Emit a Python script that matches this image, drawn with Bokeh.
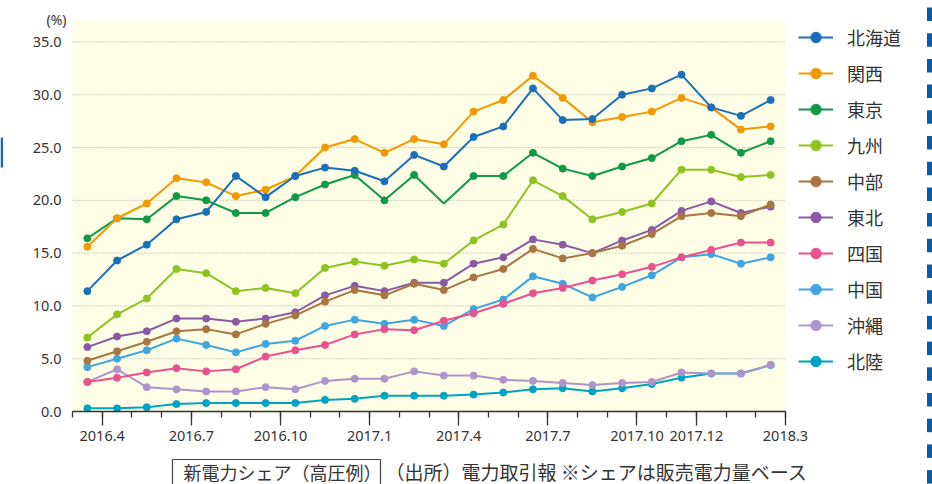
from bokeh.plotting import figure
from bokeh.models import (ColumnDataSource, Range1d, FixedTicker, Legend, LegendItem,
                          Label, CDSView, IndexFilter, CustomJSTickFormatter, BoxAnnotation)
from bokeh.embed import file_html
from bokeh.resources import INLINE

# ---------------- data ----------------
months = ["2016.3", "2016.4", "2016.5", "2016.6", "2016.7", "2016.8", "2016.9", "2016.10",
          "2016.11", "2016.12", "2017.1", "2017.2", "2017.3", "2017.4", "2017.5", "2017.6",
          "2017.7", "2017.8", "2017.9", "2017.10", "2017.11", "2017.12", "2018.1", "2018.2"]

hokkaido = [11.4, 14.3, 15.8, 18.2, 18.9, 22.3, 20.3, 22.3, 23.1, 22.8, 21.8, 24.3,
            23.2, 26.0, 27.0, 30.6, 27.6, 27.7, 30.0, 30.6, 31.9, 28.8, 28.0, 29.5]
kansai = [15.6, 18.3, 19.7, 22.1, 21.7, 20.4, 21.0, 22.3, 25.0, 25.8, 24.5, 25.8,
          25.3, 28.4, 29.5, 31.8, 29.7, 27.4, 27.9, 28.4, 29.7, 28.8, 26.7, 27.0]
tokyo = [16.4, 18.3, 18.2, 20.4, 20.0, 18.8, 18.8, 20.3, 21.5, 22.4, 20.0, 22.4,
         19.7, 22.3, 22.3, 24.5, 23.0, 22.3, 23.2, 24.0, 25.6, 26.2, 24.5, 25.6]
kyushu = [7.0, 9.2, 10.7, 13.5, 13.1, 11.4, 11.7, 11.2, 13.6, 14.2, 13.8, 14.4,
          14.0, 16.2, 17.7, 21.9, 20.4, 18.2, 18.9, 19.7, 22.9, 22.9, 22.2, 22.4]
chubu = [4.8, 5.7, 6.6, 7.6, 7.8, 7.3, 8.3, 9.1, 10.4, 11.5, 11.0, 12.1,
         11.5, 12.7, 13.5, 15.4, 14.5, 15.0, 15.7, 16.8, 18.5, 18.8, 18.5, 19.6]
tohoku = [6.1, 7.1, 7.6, 8.8, 8.8, 8.5, 8.8, 9.4, 11.0, 11.9, 11.4, 12.2,
          12.2, 14.0, 14.6, 16.3, 15.8, 15.0, 16.2, 17.2, 19.0, 19.9, 18.8, 19.4]
shikoku = [2.8, 3.2, 3.7, 4.1, 3.8, 4.0, 5.2, 5.8, 6.3, 7.3, 7.8, 7.7,
           8.6, 9.3, 10.2, 11.2, 11.7, 12.4, 13.0, 13.7, 14.6, 15.3, 16.0, 16.0]
chugoku = [4.2, 5.0, 5.8, 6.9, 6.3, 5.6, 6.4, 6.7, 8.1, 8.7, 8.3, 8.7,
           8.1, 9.7, 10.6, 12.8, 12.1, 10.8, 11.8, 12.9, 14.6, 14.9, 14.0, 14.6]
okinawa = [2.8, 4.0, 2.3, 2.1, 1.9, 1.9, 2.3, 2.1, 2.9, 3.1, 3.1, 3.8,
           3.4, 3.4, 3.0, 2.9, 2.7, 2.5, 2.7, 2.8, 3.7, 3.6, 3.6, 4.4]
hokuriku = [0.3, 0.3, 0.4, 0.7, 0.8, 0.8, 0.8, 0.8, 1.1, 1.2, 1.5, 1.5,
            1.5, 1.6, 1.8, 2.1, 2.2, 1.9, 2.2, 2.6, 3.2, 3.6, 3.6, 4.4]

series_names = ["北海道", "関西", "東京", "九州", "中部", "東北", "四国", "中国", "沖縄", "北陸"]
series_values = [hokkaido, kansai, tokyo, kyushu, chubu, tohoku, shikoku, chugoku, okinawa, hokuriku]
series_colors = ["#1a6fbd", "#f39800", "#0f9a48", "#8fc31f", "#a87543",
                 "#8b5aa6", "#e9528e", "#3ea6e0", "#ad95c9", "#00a3c2"]
# points drawn as line vertices only (no marker)
no_marker = {"東京": [12]}

tick_positions = [1, 4, 7, 10, 13, 16, 19, 21, 24]
tick_labels = ["2016.4", "2016.7", "2016.10", "2017.1", "2017.4", "2017.7", "2017.10", "2017.12", "2018.3"]
y_ticks = [0, 5, 10, 15, 20, 25, 30, 35]
y_top = 37.03

note_box = "新電力シェア（高圧例）"
note_src = "（出所）電力取引報 ※シェアは販売電力量ベース"

# ---------------- layout constants (pixels) ----------------
W, H = 932, 484
FX0, FX1 = 72, 785          # plot area left / right
FY0, FY1 = 411, 20          # plot area bottom / top
XS = (FX1 - FX0) / len(months)
YS = (FY0 - FY1) / y_top


def dx(px):
    return (px - FX0) / XS


def dy(py):
    return (FY0 - py) / YS


FONT = "Noto Sans"
CJK = "Noto Sans CJK JP"
TXT = "#333333"

p = figure(width=W, height=H, output_backend="svg", toolbar_location=None,
           x_range=Range1d(dx(0), dx(W)), y_range=Range1d(dy(H), dy(0)),
           min_border=0, min_border_left=0, min_border_right=0,
           min_border_top=0, min_border_bottom=0)
p.title.visible = False
p.background_fill_color = "white"
p.border_fill_color = "white"
p.outline_line_color = None
p.xgrid.grid_line_color = None
p.ygrid.grid_line_color = None

# plot-area background
p.add_layout(BoxAnnotation(left=0, right=len(months), bottom=0, top=y_top,
                           fill_color="#fefde6", fill_alpha=1, line_color=None, level="image"))

# dotted horizontal grid lines
p.segment(x0=0, x1=len(months), y0=y_ticks[1:], y1=y_ticks[1:],
          line_color="#a8a8a8", line_dash="1 2", line_width=1)

xs = [i + 0.5 for i in range(len(months))]
items = []
renderers = []
for name, vals, col in zip(series_names, series_values, series_colors):
    src = ColumnDataSource(dict(x=xs, y=vals, month=months))
    ln = p.line("x", "y", source=src, line_color=col, line_width=2)
    keep = [i for i in range(len(vals)) if i not in no_marker.get(name, [])]
    sc = p.scatter("x", "y", source=src, view=CDSView(filter=IndexFilter(keep)),
                   marker="circle", size=7, fill_color=col, line_color=col)
    renderers.append((ln, sc))
    items.append(LegendItem(label=name, renderers=[ln, sc]))

# earlier legend entries drawn on top
order = []
for ln, sc in reversed(renderers):
    order += [ln, sc]
others = [r for r in p.renderers if r not in order]
p.renderers = others + order

# x axis at y = 0
xa = p.xaxis[0]
xa.fixed_location = 0
xa.bounds = (0, len(months))
xa.ticker = FixedTicker(ticks=tick_positions, minor_ticks=list(range(0, len(months) + 1)))
xa.major_label_overrides = {t: l for t, l in zip(tick_positions, tick_labels)}
xa.axis_line_color = TXT
xa.axis_line_width = 1.3
xa.major_tick_line_color = TXT
xa.minor_tick_line_color = TXT
xa.major_tick_line_width = 1.3
xa.minor_tick_line_width = 1.3
xa.major_tick_in = 0
xa.major_tick_out = 14
xa.minor_tick_in = 0
xa.minor_tick_out = 6
xa.major_label_standoff = 5
xa.major_label_text_font = FONT
xa.major_label_text_font_size = "14.5px"
xa.major_label_text_color = TXT

# y axis at x = 0
ya = p.yaxis[0]
ya.fixed_location = 0
ya.bounds = (0, y_ticks[-1])
ya.ticker = FixedTicker(ticks=y_ticks)
ya.formatter = CustomJSTickFormatter(code="return tick.toFixed(1);")
ya.axis_line_color = None
ya.major_tick_line_color = None
ya.minor_tick_line_color = None
ya.major_tick_out = 0
ya.major_tick_in = 0
ya.minor_tick_out = 0
ya.minor_tick_in = 0
ya.major_label_standoff = 11
ya.major_label_text_font = FONT
ya.major_label_text_font_size = "14.5px"
ya.major_label_text_color = TXT

# unit label
p.add_layout(Label(x=0, y=y_top, text="(%)", text_align="right", text_baseline="middle",
                   x_offset=-6, y_offset=1, text_font=FONT, text_font_size="14px",
                   text_color=TXT))

# legend to the right of the plot area
legend = Legend(items=items, location=(798, H - 374), margin=0, padding=0,
                spacing=10, glyph_width=35, glyph_height=26, label_height=26,
                label_standoff=14, label_text_font=CJK, label_text_font_size="18px",
                label_text_color=TXT, border_line_color=None, background_fill_alpha=0)
p.add_layout(legend, "center")

# notes below the chart: framed caption + source
p.add_layout(BoxAnnotation(left=dx(172), right=dx(380), top=dy(459), bottom=dy(H + 10),
                           fill_alpha=0, line_color="#444444", line_alpha=1, line_width=1.2))
p.add_layout(Label(x=dx(183), y=dy(471), text=note_box, text_align="left",
                   text_baseline="middle", text_font=CJK, text_font_size="18px",
                   text_color=TXT))
p.add_layout(Label(x=dx(385), y=dy(471), text=note_src, text_align="left",
                   text_baseline="middle", text_font=CJK, text_font_size="19px",
                   text_color=TXT))

# decorative page marks (blue bar on the left, dashed blue strip on the right)
p.add_layout(BoxAnnotation(left=dx(0), right=dx(2.5), bottom=dy(167), top=dy(137),
                           fill_color="#1f63b0", fill_alpha=1, line_color=None))
for k in range(19):
    top_px = 7 + 25.7 * k
    p.add_layout(BoxAnnotation(left=dx(926.5), right=dx(W), bottom=dy(top_px + 13.5),
                               top=dy(top_px), fill_color="#0b5aa6", fill_alpha=1,
                               line_color=None))

open("out.html", "w").write(file_html(p, INLINE))
